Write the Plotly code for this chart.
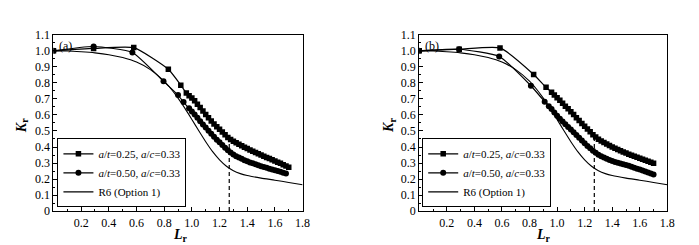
import plotly.graph_objects as go

# ---------------- data ----------------
# Panel (a)
a_sq_lr = [0.0, 0.29, 0.58, 0.83, 0.92, 0.96, 0.98,
           1.00, 1.02, 1.04, 1.06, 1.08, 1.10, 1.12, 1.14, 1.16, 1.18, 1.20, 1.22, 1.24, 1.26, 1.28, 1.30,
           1.32, 1.34, 1.36, 1.38, 1.40, 1.42, 1.44, 1.46, 1.48, 1.50, 1.52, 1.54, 1.56, 1.58, 1.60, 1.62,
           1.64, 1.66, 1.68, 1.70]
a_sq_kr = [1.0, 1.015, 1.02, 0.885, 0.786, 0.737, 0.720,
           0.705, 0.688, 0.667, 0.646, 0.624, 0.603, 0.582, 0.562, 0.544, 0.527, 0.511, 0.494, 0.477, 0.460, 0.447, 0.436,
           0.426, 0.417, 0.408, 0.399, 0.390, 0.382, 0.374, 0.366, 0.358, 0.350, 0.343, 0.335, 0.328, 0.321, 0.313, 0.305,
           0.298, 0.290, 0.282, 0.274]
a_ci_lr = [0.0, 0.29, 0.57, 0.795, 0.90, 0.94, 0.98,
           1.00, 1.02, 1.04, 1.06, 1.08, 1.10, 1.12, 1.14, 1.16, 1.18, 1.20, 1.22, 1.24, 1.26, 1.28, 1.30,
           1.32, 1.34, 1.36, 1.38, 1.40, 1.42, 1.44, 1.46, 1.48, 1.50, 1.52, 1.54, 1.56, 1.58, 1.60, 1.62,
           1.64, 1.66, 1.68]
a_ci_kr = [1.0, 1.027, 0.99, 0.81, 0.724, 0.680, 0.641,
           0.622, 0.602, 0.582, 0.561, 0.541, 0.521, 0.502, 0.482, 0.464, 0.446, 0.429, 0.412, 0.395, 0.379, 0.365, 0.353,
           0.343, 0.334, 0.326, 0.318, 0.311, 0.304, 0.298, 0.292, 0.286, 0.280, 0.275, 0.270, 0.265, 0.260, 0.255, 0.250,
           0.245, 0.240, 0.235]

# Panel (b)
b_sq_lr = [0.0, 0.29, 0.586, 0.83, 0.92, 0.96, 0.98,
           1.00, 1.02, 1.04, 1.06, 1.08, 1.10, 1.12, 1.14, 1.16, 1.18, 1.20, 1.22, 1.24, 1.26, 1.28, 1.30,
           1.32, 1.34, 1.36, 1.38, 1.40, 1.42, 1.44, 1.46, 1.48, 1.50, 1.52, 1.54, 1.56, 1.58, 1.60, 1.62,
           1.64, 1.66, 1.68, 1.70]
b_sq_kr = [1.0, 1.01, 1.018, 0.852, 0.772, 0.742, 0.725,
           0.708, 0.692, 0.673, 0.655, 0.638, 0.620, 0.602, 0.583, 0.565, 0.547, 0.530, 0.513, 0.495, 0.477, 0.462, 0.449,
           0.438, 0.428, 0.418, 0.409, 0.400, 0.392, 0.384, 0.377, 0.369, 0.362, 0.355, 0.349, 0.342, 0.336, 0.330, 0.324,
           0.317, 0.311, 0.305, 0.298]
b_ci_lr = [0.0, 0.29, 0.58, 0.81, 0.91, 0.94, 0.96, 0.98,
           1.00, 1.02, 1.04, 1.06, 1.08, 1.10, 1.12, 1.14, 1.16, 1.18, 1.20, 1.22, 1.24, 1.26, 1.28, 1.30,
           1.32, 1.34, 1.36, 1.38, 1.40, 1.42, 1.44, 1.46, 1.48, 1.50, 1.52, 1.54, 1.56, 1.58, 1.60, 1.62,
           1.64, 1.66, 1.68, 1.70]
b_ci_kr = [1.0, 1.01, 0.965, 0.782, 0.683, 0.655, 0.637, 0.615,
           0.595, 0.576, 0.559, 0.542, 0.525, 0.509, 0.492, 0.475, 0.458, 0.440, 0.423, 0.407, 0.392, 0.377, 0.364, 0.352,
           0.342, 0.334, 0.326, 0.319, 0.313, 0.307, 0.302, 0.297, 0.292, 0.288, 0.283, 0.277, 0.271, 0.265, 0.259, 0.253,
           0.247, 0.241, 0.235, 0.229]

# R6 Option 1 curve
r6_lr = [0.0, 0.1, 0.2, 0.3, 0.4, 0.5, 0.6, 0.7, 0.8, 0.85, 0.9, 0.95, 1.0, 1.05, 1.1, 1.15, 1.2,
         1.25, 1.3, 1.35, 1.4, 1.5, 1.6, 1.7, 1.8]
r6_kr = [1.0, 0.999, 0.994, 0.987, 0.976, 0.958, 0.930, 0.883, 0.811, 0.762, 0.705, 0.641, 0.572, 0.501, 0.433,
         0.371, 0.320, 0.280, 0.252, 0.234, 0.222, 0.206, 0.193, 0.179, 0.164]

# Lr,max cut-off lines
a_cut_lr = [1.27, 1.27]
a_cut_kr = [0.0, 0.445]
b_cut_lr = [1.27, 1.27]
b_cut_kr = [0.0, 0.46]

leg1 = "<i>a</i>/<i>t</i>=0.25, <i>a</i>/<i>c</i>=0.33"
leg2 = "<i>a</i>/<i>t</i>=0.50, <i>a</i>/<i>c</i>=0.33"
leg3 = "R6 (Option 1)"

x_ticks = [0.2, 0.4, 0.6, 0.8, 1.0, 1.2, 1.4, 1.6, 1.8]
x_ticklabels = ["0.2", "0.4", "0.6", "0.8", "1.0", "1.2", "1.4", "1.6", "1.8"]
y_ticks = [0, 0.1, 0.2, 0.3, 0.4, 0.5, 0.6, 0.7, 0.8, 0.9, 1.0, 1.1]
y_ticklabels = ["0", "0.1", "0.2", "0.3", "0.4", "0.5", "0.6", "0.7", "0.8", "0.9", "1.0", "1.1"]

SERIF = "Liberation Serif"

fig = go.Figure()

panels = [
    ("x", "y", "legend", a_sq_lr, a_sq_kr, a_ci_lr, a_ci_kr, a_cut_lr, a_cut_kr),
    ("x2", "y2", "legend2", b_sq_lr, b_sq_kr, b_ci_lr, b_ci_kr, b_cut_lr, b_cut_kr),
]
for xa, ya, lg, sx, sy, cx, cy, dx, dy in panels:
    fig.add_trace(go.Scatter(x=sx, y=sy, xaxis=xa, yaxis=ya, legend=lg, name=leg1,
                             mode="lines+markers",
                             line=dict(color="black", width=1.2, shape="spline", smoothing=0.5),
                             marker=dict(symbol="square", size=5.5, color="black")))
    fig.add_trace(go.Scatter(x=cx, y=cy, xaxis=xa, yaxis=ya, legend=lg, name=leg2,
                             mode="lines+markers",
                             line=dict(color="black", width=1.2, shape="spline", smoothing=0.5),
                             marker=dict(symbol="circle", size=6, color="black")))
    fig.add_trace(go.Scatter(x=r6_lr, y=r6_kr, xaxis=xa, yaxis=ya, legend=lg, name=leg3,
                             mode="lines", line=dict(color="black", width=1.1, shape="spline", smoothing=0.6)))
    fig.add_trace(go.Scatter(x=dx, y=dy, xaxis=xa, yaxis=ya, showlegend=False,
                             mode="lines", line=dict(color="black", width=1.2, dash="4px,3px")))

ax_common = dict(showline=True, linecolor="black", linewidth=1, mirror=True, showgrid=False,
                 zeroline=False, ticks="inside", ticklen=4, tickcolor="black",
                 tickfont=dict(family=SERIF, size=12, color="black"))

xdoms = [[46 / 699, 298 / 699], [416 / 699, 667 / 699]]
ydom = [1 - 208 / 245, 1 - 21 / 245]
ktitle_x = [14 / 699, 386 / 699]
ltitle_x = [175 / 699, 542 / 699]

for i, (xd, lab) in enumerate(zip(xdoms, ["(a)", "(b)"])):
    sfx = "" if i == 0 else str(i + 1)
    fig.update_layout(**{
        "xaxis" + sfx: dict(domain=xd, range=[0, 1.8], tickvals=x_ticks, ticktext=x_ticklabels,
                            anchor="y" + sfx,
                            minor=dict(ticks="inside", ticklen=2, dtick=0.1, tick0=0, tickcolor="black"),
                            **ax_common),
        "yaxis" + sfx: dict(domain=ydom, range=[0, 1.1], tickvals=y_ticks, ticktext=y_ticklabels,
                            anchor="x" + sfx,
                            minor=dict(ticks="inside", ticklen=2, dtick=0.05, tick0=0, tickcolor="black"),
                            **ax_common),
    })
    fig.add_annotation(xref="x%s domain" % sfx, yref="y%s domain" % sfx, x=0.015, y=0.985,
                       xanchor="left", yanchor="top", text=lab, showarrow=False,
                       font=dict(family=SERIF, size=12, color="black"))
    fig.add_annotation(xref="paper", yref="paper", x=ltitle_x[i], y=1 - 234 / 245,
                       xanchor="center", yanchor="middle", showarrow=False,
                       text="<b><i>L</i></b><sub><b>r</b></sub>",
                       font=dict(family=SERIF, size=14, color="black"))
    fig.add_annotation(xref="paper", yref="paper", x=ktitle_x[i], y=1 - 117 / 245,
                       xanchor="center", yanchor="middle", showarrow=False, textangle=-90,
                       text="<b><i>K</i></b><sub><b>r</b></sub>",
                       font=dict(family=SERIF, size=14, color="black"))

legend_style = dict(bgcolor="white", bordercolor="black", borderwidth=1,
                    font=dict(family=SERIF, size=11, color="black"),
                    xanchor="left", yanchor="bottom", tracegroupgap=0, itemwidth=30)
fig.update_layout(
    legend=dict(x=50 / 699, y=1 - 204 / 245, **legend_style),
    legend2=dict(x=419 / 699, y=1 - 204 / 245, **legend_style),
    width=699, height=245,
    margin=dict(l=0, r=0, t=0, b=0),
    paper_bgcolor="white", plot_bgcolor="white",
    showlegend=True,
)

fig.write_html("out.html")
